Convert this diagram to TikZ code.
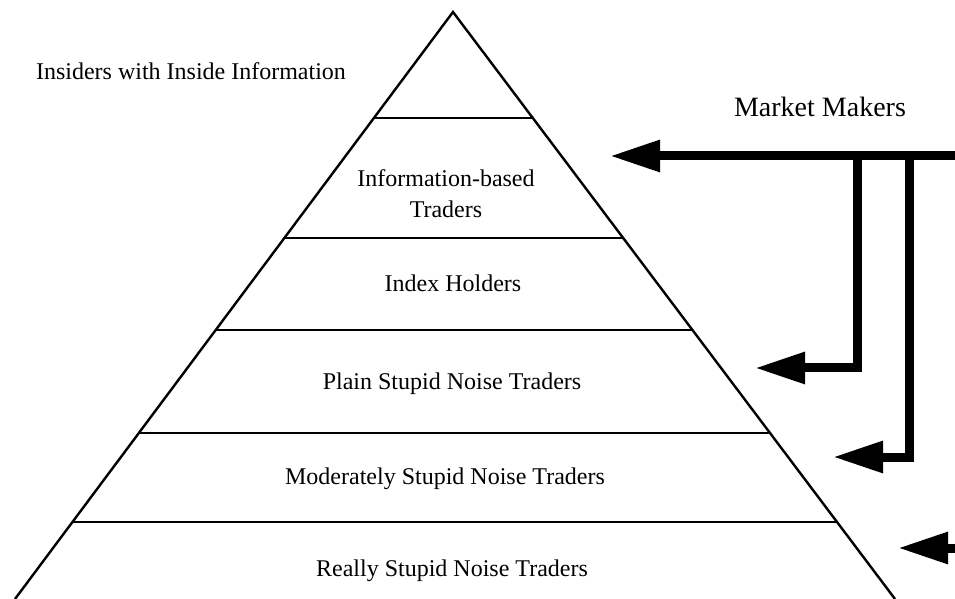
\documentclass[tikz,border=0pt]{standalone}
\usepackage{fontspec}
\setmainfont{Liberation Serif}
\usetikzlibrary{arrows.meta,calc}
\tikzset{
  layerlabel/.style={font=\fontsize{12}{15.5}\selectfont, align=center, inner sep=0pt, anchor=base},
  mmarrow/.style={line width=4.5pt, -{Triangle[length=25pt,width=15pt]}, line join=miter},
}
\begin{document}
\begin{tikzpicture}[x=0.5pt,y=-0.5pt]
  \useasboundingbox (0,0) rectangle (955,599);
  % Pyramid
  \coordinate (apex) at (453,12);
  \coordinate (bl) at (15,599);
  \coordinate (br) at (895,599);
  \draw[line width=1.2pt, line join=miter] (bl) -- (apex) -- (br);
  \foreach \y in {118,238,330,433,522} {
    \draw[line width=1pt] ($(apex)!{(\y-12)/587}!(bl)$) -- ($(apex)!{(\y-12)/587}!(br)$);
  }

  % Layers
  \node[layerlabel] (insiders) at (191,80) {Insiders with Inside Information};
  \node[layerlabel, anchor=center] (infotraders) at (446,194) {Information-based\\Traders};
  \node[layerlabel] (index) at (453,292) {Index Holders};
  \node[layerlabel] (plain) at (452,390) {Plain Stupid Noise Traders};
  \node[layerlabel] (moderate) at (445,485) {Moderately Stupid Noise Traders};
  \node[layerlabel] (really) at (452,576) {Really Stupid Noise Traders};
  \node[layerlabel, font=\fontsize{14}{17}\selectfont] (makers) at (820,117) {Market Makers};

  % Market maker arrows
  \coordinate (mmtop) at (955,156);
  \coordinate (splitplain) at (857,156);
  \coordinate (splitmod) at (909,156);
  \coordinate (tipinfo) at (610,156);
  \coordinate (tipplain) at (755,368);
  \coordinate (tipmod) at (833,457);
  \coordinate (mmbottom) at (955,548);
  \coordinate (tipreally) at (898,548);
  \draw[mmarrow] (mmtop) -- (tipinfo);
  \draw[mmarrow] (splitplain) |- (tipplain);
  \draw[mmarrow] (splitmod) |- (tipmod);
  \draw[mmarrow] (mmbottom) -- (tipreally);
\end{tikzpicture}
\end{document}
